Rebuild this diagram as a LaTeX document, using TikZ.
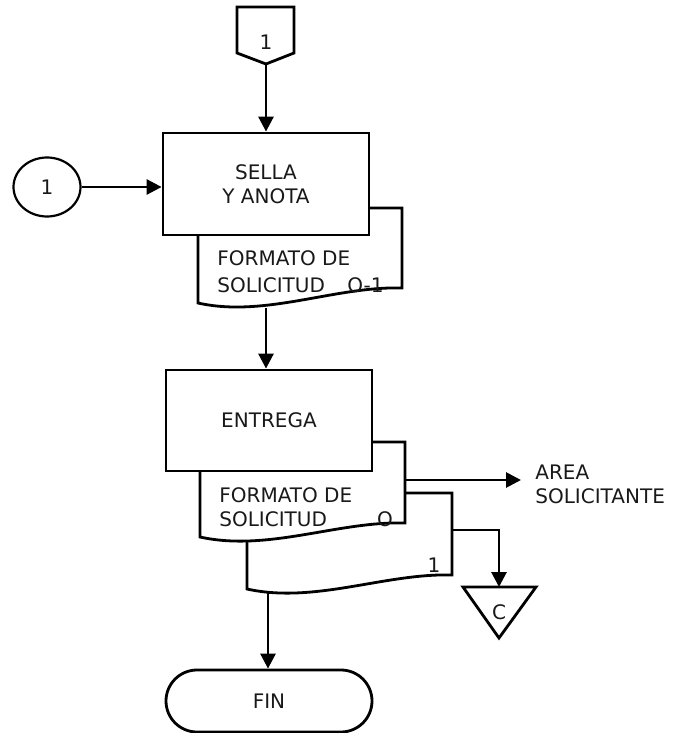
\documentclass[tikz,border=0pt]{standalone}
\usepackage{fontspec}
\setmainfont{DejaVu Sans}
\usetikzlibrary{arrows.meta,shapes.geometric}
\begin{document}
\begin{tikzpicture}[x=1pt,y=-1pt,
  line width=2.8pt,
  every node/.style={font=\fontsize{20}{24}\selectfont, text=black!90},
  procbox/.style={draw, fill=white, rectangle, minimum width=206pt, minimum height=102pt, inner sep=0pt, align=center},
  term/.style={draw, fill=white, rectangle, rounded corners=31pt, minimum width=206pt, minimum height=62pt, inner sep=0pt},
  conn/.style={draw, ellipse, line width=2.2pt, minimum width=67pt, minimum height=59pt, inner sep=0pt},
  docshape/.style={draw, fill=white, line join=miter},
  arr/.style={-{Triangle[length=15pt,width=15pt]}},
  lbl/.style={inner sep=0pt, anchor=west}
]
\useasboundingbox (0,0) rectangle (675,733);

% off-page connector (top)
\draw[fill=white] (237,7) -- (294,7) -- (294,53) -- (266,64) -- (237,53) -- cycle;
\coordinate (op) at (266,64);
\node[inner sep=0pt] (oplbl) at (266,42) {1};

% ---------- group 1 ----------
\draw[docshape] (369,208) -- (402,208) -- (402,288)
  .. controls (335,286) and (265,318) .. (198,303) -- (198,235);
\coordinate (d0b) at (266,308);
\node[procbox, minimum height=102pt] (b1) at (266,184) {SELLA\\Y ANOTA};
\node[lbl] (t1) at (216,258) {FORMATO DE};
\node[lbl] (t2) at (216,285) {SOLICITUD};
\node[inner sep=0pt, anchor=east] (t3) at (385,285) {O-1};

% left on-page connector
\node[conn] (c1) at (47,187) {1};

% ---------- group 2 ----------
\draw[docshape] (405,493) -- (452,493) -- (452,575)
  .. controls (385,573) and (315,604) .. (247,589) -- (247,537);
\draw[docshape] (372,442) -- (405,442) -- (405,523)
  .. controls (338,521) and (268,552) .. (200,537) -- (200,471);
\coordinate (d2b) at (268,593);
\node[procbox, minimum height=101pt] (b2) at (269,420.5) {ENTREGA};
\node[lbl] (t4) at (218,495) {FORMATO DE};
\node[lbl] (t5) at (218,519) {SOLICITUD};
\node[inner sep=0pt] (t6) at (385,519) {O};
\node[inner sep=0pt] (t7) at (434,565) {1};

% area solicitante
\coordinate (d1r) at (405,480);
\coordinate (areain) at (521,480);
\node[lbl, align=left] (area) at (534,484) {AREA\\SOLICITANTE};

% archive triangle
\draw[fill=white] (463,587) -- (536,587) -- (499,638) -- cycle;
\coordinate (tri) at (499,587);
\coordinate (d2r) at (452,530);
\node[inner sep=0pt] (tc) at (499,612) {C};

% terminator
\node[term] (fin) at (269,701) {FIN};

% ---------- connectors ----------
\draw[arr] (op) -- (b1.north);
\draw[arr] (c1.east) -- (c1.east -| b1.west);
\draw[arr] (d0b) -- (d0b |- b2.north);
\draw[arr] (d1r) -- (areain);
\draw[arr] (d2r) -| (tri);
\draw[arr] (d2b) -- (d2b |- fin.north);
\end{tikzpicture}
\end{document}
